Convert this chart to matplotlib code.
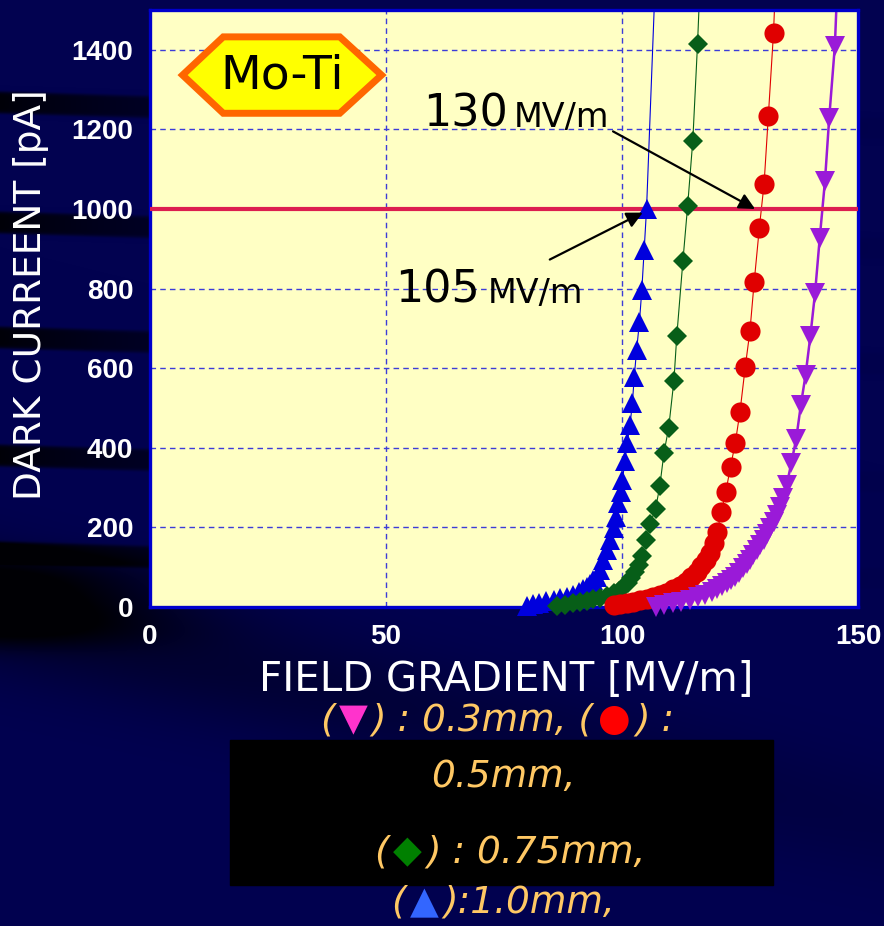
import matplotlib
matplotlib.use("Agg")
import matplotlib.pyplot as plt
import numpy as np
from matplotlib.patches import Polygon, Rectangle
from matplotlib.offsetbox import TextArea, HPacker, AnnotationBbox

# Dark current vs. field gradient, Mo-Ti cathode, four gap widths
x_10 = [79.8, 81.1, 82.5, 84.0, 85.5, 86.9, 88.3, 89.6, 90.8, 91.8, 92.6, 93.2, 93.9,
        94.6, 95.3, 96.0, 96.8, 97.5, 98.2, 98.7, 99.2, 99.7, 100.1, 100.6, 101.1,
        101.7, 102.2, 102.6, 103.1, 103.7, 104.2, 104.7, 105.2]
y_10 = [3, 8, 11, 14, 18, 22, 26, 31, 37, 44, 51, 59, 67, 76, 93, 118, 143, 169, 198,
        227, 261, 290, 319, 366, 412, 458, 512, 579, 646, 717, 797, 898, 1000]

x_075 = [86.2, 87.9, 89.7, 91.1, 92.5, 93.9, 95.3, 96.8, 98.2, 99.3, 100.3, 101.2,
         102.0, 102.8, 103.5, 104.2, 105.1, 105.9, 107.1, 108.0, 108.9, 109.9, 111.0,
         111.6, 112.9, 113.9, 115.0, 116.0]
y_075 = [3, 6, 9, 12, 15, 19, 23, 28, 34, 41, 50, 61, 73, 88, 106, 127, 169, 208, 246,
         303, 388, 451, 569, 680, 869, 1007, 1172, 1414]

x_05 = [98.2, 99.6, 101.0, 102.4, 103.8, 105.2, 106.6, 108.0, 109.4, 110.8, 112.2,
        113.5, 114.7, 115.8, 116.8, 117.7, 118.6, 119.4, 120.2, 121.0, 122.0, 123.0,
        124.0, 125.0, 126.1, 127.1, 128.0, 129.1, 130.1, 131.0, 132.1]
y_05 = [4, 7, 10, 13, 17, 21, 25, 30, 36, 44, 53, 63, 75, 88, 102, 118, 135, 160, 189,
        238, 290, 353, 412, 491, 602, 693, 816, 953, 1063, 1233, 1443]

x_03 = [107.3, 109.0, 110.9, 112.6, 114.4, 116.0, 117.6, 119.0, 120.1, 121.2, 122.2,
        123.1, 123.9, 124.8, 125.7, 126.4, 127.1, 127.8, 128.5, 129.3, 130.0, 130.7,
        131.4, 132.1, 132.8, 133.5, 134.2, 134.9, 135.9, 136.9, 137.9, 138.9, 139.9,
        140.9, 141.9, 143.0, 143.9, 145.1]
y_03 = [0, 5, 9, 13, 18, 24, 30, 37, 44, 52, 60, 68, 76, 86, 97, 107, 118, 130, 143,
        156, 169, 183, 198, 214, 231, 252, 273, 307, 363, 422, 508, 584, 680, 789, 928,
        1070, 1229, 1410]

# where each fitted line leaves the top of the frame
tail_x = {"1.0": 107.0, "0.75": 116.5, "0.5": 132.5, "0.3": 145.6}
tail_y = 1560

y_ticks = [0, 200, 400, 600, 800, 1000, 1200, 1400]
x_ticks = [0, 50, 100, 150]
threshold = 1000
mark_105 = 105
mark_130 = 130

W, H = 884, 926
fig = plt.figure(figsize=(W / 100, H / 100), dpi=100)

# slide background: navy with darker streaks
yy, xx = np.mgrid[0:H, 0:W].astype(float)
dark = np.zeros((H, W))
for yc in [102, 222, 337, 455, 552]:
    dark += 0.9 * np.exp(-((yy - yc - xx * 0.03) / 11.0) ** 8) * np.exp(-xx / 300)
d = (yy - (610 + xx * 0.24)) / 60.0
dark += 0.5 * np.exp(-d ** 2) * np.exp(-xx / 700)
dark += 0.8 * np.exp(-((xx / 160) ** 2 + ((yy - 600) / 45) ** 4))
dark = np.clip(dark, 0, 0.95)
base = np.array([2, 2, 80]) / 255.0
bg = base[None, None, :] * (1 - dark[..., None])
bax = fig.add_axes([0, 0, 1, 1], zorder=-10)
bax.imshow(bg, extent=[0, W, H, 0], aspect="auto", interpolation="nearest")
bax.axis("off")

ax = fig.add_axes([150 / W, 1 - 607 / H, 708 / W, 597 / H], zorder=2)
ax.set_facecolor("#FFFFC4")
ax.set_xlim(0, 150)
ax.set_ylim(0, 1500)

series = [
    ("1.0", x_10, y_10, "#0000DD", "^", 14, 0.8),
    ("0.75", x_075, y_075, "#075E18", "D", 10, 0.8),
    ("0.5", x_05, y_05, "#E00000", "o", 14.5, 0.8),
    ("0.3", x_03, y_03, "#9A1AD8", "v", 14.5, 1.8),
]
for key, xs, ys, col, mk, ms, lw in series:
    ax.plot(xs + [tail_x[key]], ys + [tail_y], color=col, lw=lw, zorder=2)
    ax.plot(xs, ys, ls="none", marker=mk, ms=ms, color=col, mew=0,
            clip_on=False, zorder=4)

ax.axhline(threshold, color="#DC1E50", lw=3, zorder=3)

ax.set_xticks(x_ticks)
ax.set_yticks(y_ticks)
ax.grid(True, color="#3C3CD8", ls=(0, (4, 3)), lw=1)
ax.tick_params(length=0, labelcolor="white", labelsize=20)
ax.tick_params(axis="x", pad=12)
ax.tick_params(axis="y", pad=12)
for lab in ax.get_xticklabels() + ax.get_yticklabels():
    lab.set_fontfamily("Liberation Sans")
    lab.set_fontweight("bold")
for s in ax.spines.values():
    s.set_color("#0000CC")
    s.set_linewidth(2.4)

# Mo-Ti badge
hexa = Polygon([(0.046, 0.891), (0.1035, 0.955), (0.268, 0.955), (0.327, 0.891),
                (0.268, 0.827), (0.1035, 0.827)], closed=True, transform=ax.transAxes,
               facecolor="#FFFF00", edgecolor="#FF6600", lw=5, zorder=5)
ax.add_patch(hexa)
ax.text(0.186, 0.889, "Mo-Ti", transform=ax.transAxes, ha="center", va="center",
        fontsize=34, color="black", zorder=6)

# arrows to the crossings with the 1000 pA level
arrow = dict(arrowstyle="-|>", color="black", lw=1.6, mutation_scale=24,
             shrinkA=0, shrinkB=0)
ax.annotate("", xy=(mark_130 - 1.8, threshold), xytext=(98.1, 1195),
            arrowprops=arrow, zorder=6)
ax.annotate("", xy=(mark_105 - 0.6, threshold - 9), xytext=(84.7, 873),
            arrowprops=arrow, zorder=6)
ax.text(57.8, 1207, str(mark_130), fontsize=32, color="black", zorder=6)
ax.text(77.0, 1207, "MV/m", fontsize=24, color="black", zorder=6)
ax.text(51.9, 765, str(mark_105), fontsize=32, color="black", zorder=6)
ax.text(71.5, 765, "MV/m", fontsize=24, color="black", zorder=6)

fig.text(506 / W, 1 - 680 / H, "FIELD GRADIENT [MV/m]", ha="center", va="center",
         fontsize=29, color="white")
fig.text(31 / W, 1 - 295 / H, "DARK CURREENT [pA]", ha="center", va="center",
         rotation=90, fontsize=27, color="white")

# legend caption under the axis title
fig.patches.append(Rectangle((230 / W, 1 - 885 / H), 543 / W, 145 / H,
                             transform=fig.transFigure, color="black", zorder=1))
orange = "#FFC864"


def caption_row(parts, cx, cy):
    boxes = [TextArea(t, textprops=dict(color=c, fontsize=27, style="italic"))
             for t, c in parts]
    row = HPacker(children=boxes, align="baseline", pad=0, sep=3)
    ab = AnnotationBbox(row, (cx / W, 1 - cy / H), xycoords="figure fraction",
                        frameon=False, box_alignment=(0.5, 0.5), zorder=5)
    fig.add_artist(ab)


caption_row([("(", orange), ("▼", "#FF33CC"), (") : 0.3mm, (", orange),
             ("●", "#FF0000"), (") :", orange)], 497, 720)
caption_row([("0.5mm,", orange)], 503, 777)
caption_row([("(", orange), ("◆", "#008000"), (") : 0.75mm,", orange)], 510, 852)
caption_row([("(", orange), ("▲", "#3366FF"), ("):1.0mm,", orange)], 503, 903)

fig.savefig("out.png", dpi=100)
